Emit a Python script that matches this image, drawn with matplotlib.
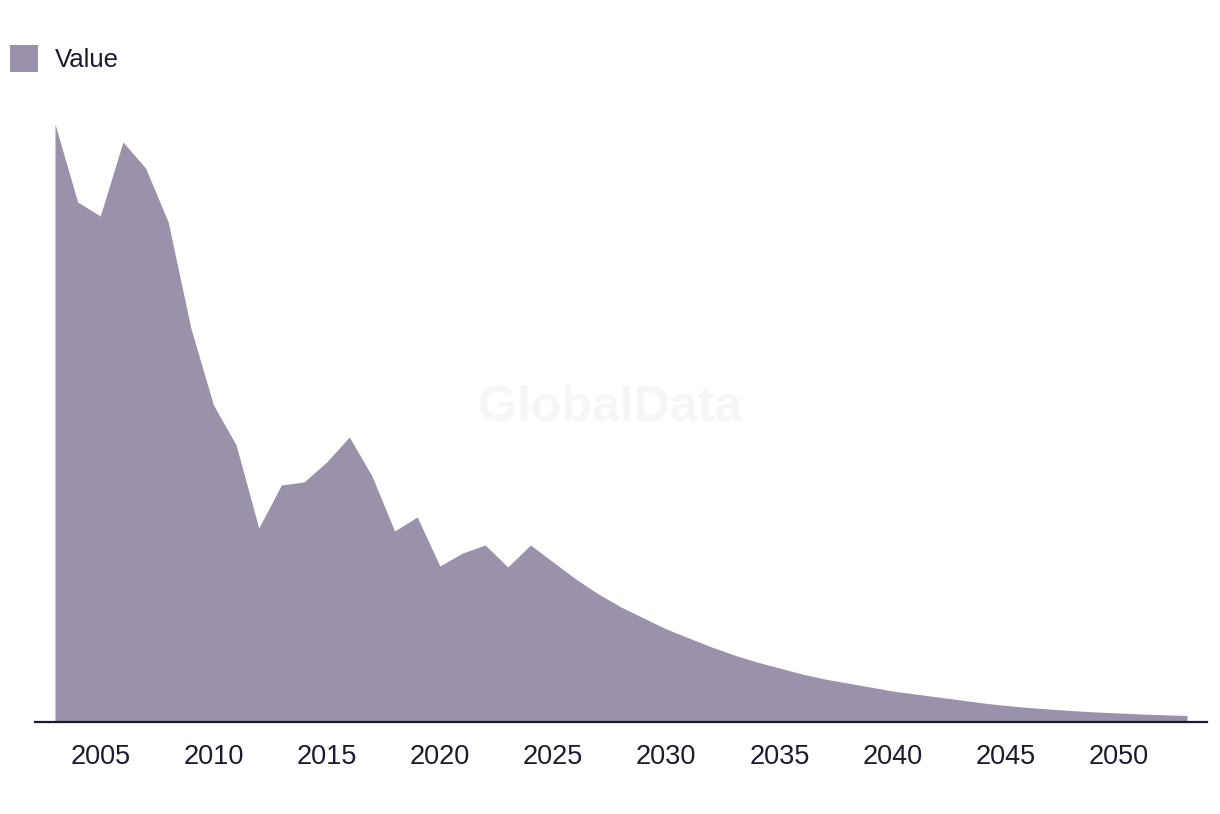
import matplotlib
matplotlib.use('Agg')
import matplotlib.pyplot as plt

plt.rcParams['font.family'] = ['Liberation Sans', 'DejaVu Sans']

# yearly values (arbitrary units)
years = list(range(2003, 2054))
values = [598, 520, 506, 580, 554, 500, 394, 317, 277, 194,
          237, 240, 260, 285, 246, 191, 205, 156, 169, 177,
          155, 177, 160, 143, 128, 115, 104, 93, 84, 75,
          67, 60, 54, 48, 43, 39, 35, 31, 28, 25,
          22, 19, 16.5, 14.5, 12.8, 11.3, 10, 9, 8, 7.2,
          6.5]
tick_years = [2005, 2010, 2015, 2020, 2025, 2030, 2035, 2040, 2045, 2050]

area_color = '#9a91aa'
text_color = '#1b1a2e'

W, H = 1220, 814
fig = plt.figure(figsize=(W / 100, H / 100), dpi=100)
ax = fig.add_axes([35 / W, (H - 722) / H, 1172 / W, (722 - 124) / H])

fig.text(610 / W, 1 - 408 / H, 'GlobalData', ha='center', va='center',
         fontsize=36, fontweight='bold', color='#f6f6f6', zorder=0)

ax.fill_between(years, values, 0, color=area_color, lw=0, label='Value')
ax.patch.set_alpha(0)

ax.set_xlim(2003 - 20 / 22.64, 2053 + 20 / 22.64)
ax.set_ylim(0, max(values))
ax.set_xticks(tick_years)
ax.set_yticks([])
ax.tick_params(axis='x', length=0, pad=16, labelsize=19.5, labelcolor=text_color)

for s in ['top', 'right', 'left']:
    ax.spines[s].set_visible(False)
ax.spines['bottom'].set_color(text_color)
ax.spines['bottom'].set_linewidth(1.6)

leg = fig.legend(loc='upper left', bbox_to_anchor=(10 / W, 1 - 45 / H),
                 frameon=False, fontsize=18.5, handlelength=1.09, handleheight=1.25,
                 handletextpad=0.65, borderpad=0, borderaxespad=0)
for t in leg.get_texts():
    t.set_color(text_color)

fig.savefig('out.png', dpi=100)
